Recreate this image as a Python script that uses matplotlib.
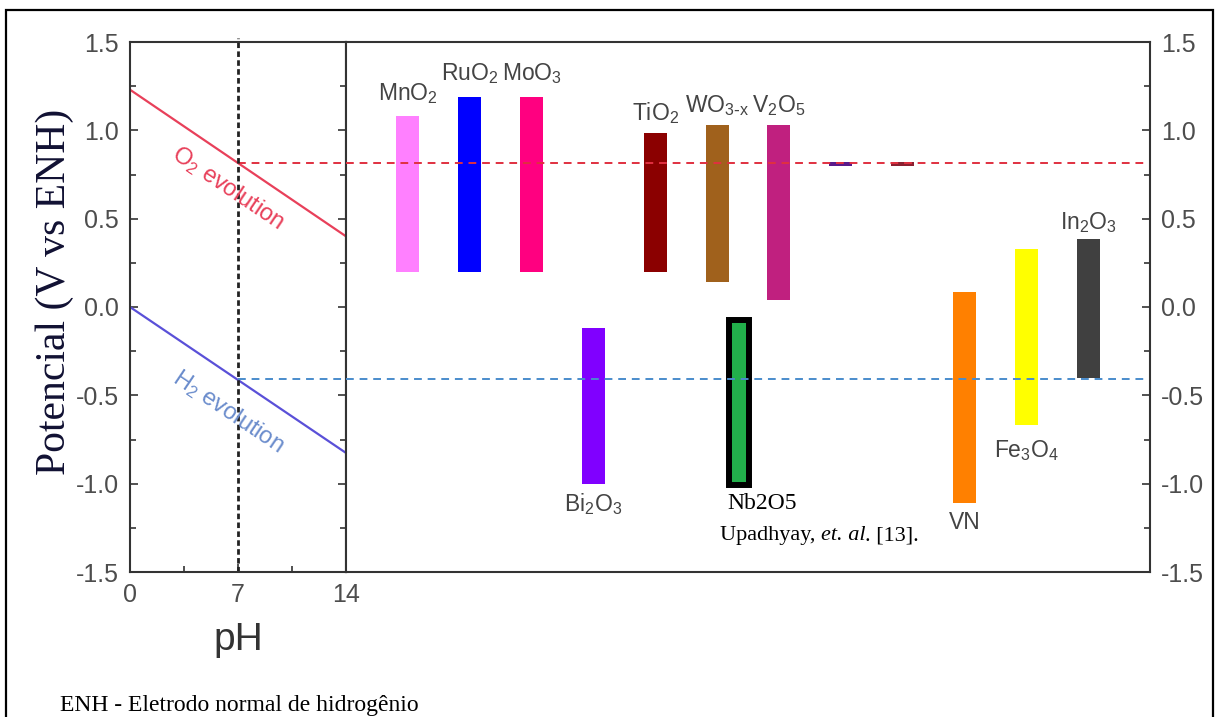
import numpy as np
import matplotlib.pyplot as plt
from matplotlib.patches import Rectangle
from matplotlib.ticker import MultipleLocator

plt.rcParams['mathtext.default'] = 'regular'
sans = 'Liberation Sans'
serif = 'Liberation Serif'

# water redox lines vs pH
ph = [0, 14]
o2_line = [1.23, 0.40]
h2_line = [0.0, -0.826]
o2_ph7 = 0.815
h2_ph7 = -0.41

# materials: position, band bottom, band top, colour, label
names = [r'MnO$_2$', r'RuO$_2$', r'MoO$_3$', r'Bi$_2$O$_3$', r'TiO$_2$', r'WO$_{3\text{-}x}$',
         r'V$_2$O$_5$', '', '', 'VN', r'Fe$_3$O$_4$', r'In$_2$O$_3$']
pos = [0, 1, 2, 3, 4, 5, 6, 7, 8, 9, 10, 11]
bottoms = [0.20, 0.20, 0.20, -1.00, 0.20, 0.14, 0.04, 0.80, 0.80, -1.11, -0.67, -0.40]
tops = [1.08, 1.19, 1.19, -0.12, 0.985, 1.03, 1.03, 0.82, 0.82, 0.085, 0.33, 0.385]
colors = ['#ff80ff', '#0000ff', '#ff0080', '#8000ff', '#8b0000', '#a0611c',
          '#c0207f', '#5a1a8a', '#8b2030', '#ff8000', '#ffff00', '#404040']
label_y = [1.21, 1.32, 1.32, -1.115, 1.10, 1.14, 1.14, None, None, -1.22, -0.81, 0.48]

nb_pos = 5.36
nb_range = [-1.01, -0.075]

fig = plt.figure(figsize=(12.2, 7.17), dpi=100)
ax1 = fig.add_axes([130/1220, 1-572/717, 216/1220, 530/717])
ax2 = fig.add_axes([346/1220, 1-572/717, 804/1220, 530/717])

spine_c = '#333333'
tick_c = '#4d4d4d'

# left panel
ax1.plot(ph, o2_line, color='#e8405a', lw=1.6)
ax1.plot(ph, h2_line, color='#5a50d8', lw=1.6)
ax1.plot([7, 14], [o2_ph7, o2_ph7], color='#e03040', lw=1.4, ls=(0, (4, 3)))
ax1.plot([7, 14], [h2_ph7, h2_ph7], color='#4a8ccc', lw=1.4, ls=(0, (4, 3)))
ax1.plot([7, 7], [-1.5, 1.52], color='#222222', lw=2, ls=(0, (2, 1.2)), clip_on=False)
ax1.text(6.35, 0.673, r'O$_2$ evolution', rotation=-34, color='#e8405a', fontsize=17,
         family=sans, ha='center', va='center')
ax1.text(6.35, -0.594, r'H$_2$ evolution', rotation=-34, color='#6a8ccc', fontsize=17,
         family=sans, ha='center', va='center')
ax1.set_xlim(0, 14)
ax1.set_ylim(-1.5, 1.5)
ax1.set_xticks([0, 7, 14])
ax1.xaxis.set_minor_locator(MultipleLocator(3.5))
ax1.yaxis.set_major_locator(MultipleLocator(0.5))
ax1.yaxis.set_minor_locator(MultipleLocator(0.25))
ax1.yaxis.set_major_formatter(plt.FuncFormatter(lambda v, p: f'{v:.1f}'))
ax1.tick_params(which='both', direction='in', left=True, right=True, top=False, bottom=True,
                colors=spine_c, labelcolor=tick_c, labelsize=18, width=1.2)
ax1.tick_params(which='major', length=6, pad=8)
ax1.tick_params(which='minor', length=4)
for lab in ax1.get_xticklabels() + ax1.get_yticklabels():
    lab.set_family(sans)
ax1.set_xlabel('pH', fontsize=28, family=sans, color='#333333', labelpad=11)
for s in ax1.spines.values():
    s.set_color(spine_c)
    s.set_linewidth(1.5)

# right panel
for p, b, t, c in zip(pos, bottoms, tops, colors):
    ax2.bar(p, t - b, bottom=b, width=0.37, color=c)
ax2.bar(nb_pos, nb_range[1] - nb_range[0], bottom=nb_range[0], width=0.32,
        color='#22b04b', edgecolor='black', linewidth=4.3)
for p, n, ly in zip(pos, names, label_y):
    if ly is not None:
        ax2.text(p, ly, n, ha='center', va='center', fontsize=16.5, family=sans, color='#444444')
ax2.text(5.73, -1.115, 'Nb2O5', ha='center', va='center', fontsize=17,
         family=serif, color='black')
t1 = ax2.text(5.04, -1.295, 'Upadhyay, ', ha='left', va='center', fontsize=16,
              family=serif, color='black')
t2 = ax2.annotate('et. al', xy=(1, 0), xycoords=t1, ha='left', va='bottom', fontsize=16,
                  family=serif, style='italic', color='black')
ax2.annotate('. [13].', xy=(1, 0), xycoords=t2, ha='left', va='bottom', fontsize=16,
             family=serif, color='black')
ax2.plot([-1, 11.9], [o2_ph7, o2_ph7], color='#e03040', lw=1.4, ls=(0, (4, 3)), zorder=3)
ax2.plot([-1, 11.9], [h2_ph7, h2_ph7], color='#4a8ccc', lw=1.4, ls=(0, (4, 3)), zorder=3)
ax2.set_xlim(-1, 12)
ax2.set_ylim(-1.5, 1.5)
ax2.set_xticks([])
ax2.yaxis.tick_right()
ax2.yaxis.set_major_locator(MultipleLocator(0.5))
ax2.yaxis.set_minor_locator(MultipleLocator(0.25))
ax2.yaxis.set_major_formatter(plt.FuncFormatter(lambda v, p: f'{v:.1f}'))
ax2.tick_params(which='both', direction='in', left=False, right=True,
                colors=spine_c, labelcolor=tick_c, labelsize=18, width=1.2)
ax2.tick_params(which='major', length=6, pad=8)
ax2.tick_params(which='minor', length=4)
for lab in ax2.get_yticklabels():
    lab.set_family(sans)
for s in ax2.spines.values():
    s.set_color(spine_c)
    s.set_linewidth(1.5)

fig.text(55/1220, 1-292/717, 'Potencial (V vs ENH)', rotation=90, ha='center', va='center',
         fontsize=30, family=serif, color='#111133')
fig.text(60/1220, 1-706/717, 'ENH - Eletrodo normal de hidrogênio', ha='left', va='center',
         fontsize=17, family=serif, color='black')

# outer frame
fig.patches.append(Rectangle((6/1220, -0.02), 1207/1220, 1.02 - 10/717, transform=fig.transFigure,
                             fill=False, edgecolor='black', linewidth=1.6))

fig.savefig('out.png', dpi=100)
